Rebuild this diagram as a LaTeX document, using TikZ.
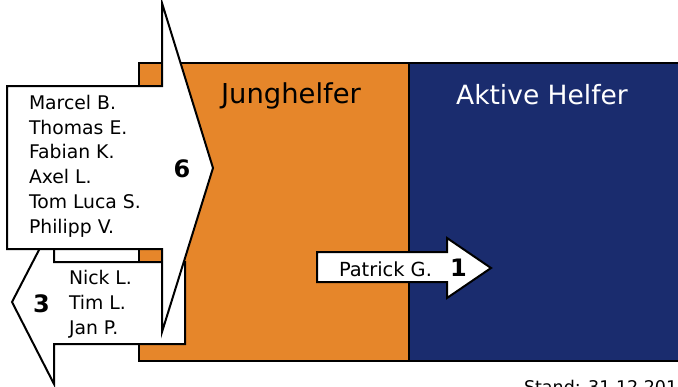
\documentclass[tikz,border=0pt]{standalone}
\usepackage{fontspec}
\setmainfont{DejaVu Sans}
\usetikzlibrary{positioning}
\definecolor{jungorange}{HTML}{E6862A}
\definecolor{aktivblue}{HTML}{1A2C6E}

\begin{document}
\begin{tikzpicture}[x=1pt, y=-1pt, line width=2pt, line join=miter,
  grouplabel/.style={anchor=base, inner sep=0pt, font=\fontsize{26.5}{26.5}\selectfont},
  namelist/.style={anchor=base west, align=left, inner sep=0pt, font=\fontsize{18.8}{24.8}\selectfont},
  countlabel/.style={inner sep=0pt, font=\bfseries\fontsize{24}{24}\selectfont},
  movearrow/.style={draw=black, fill=white}]
\useasboundingbox (0,0) rectangle (678,386);
\draw[fill=jungorange] (139,63) rectangle (409,361);
\draw[fill=aktivblue] (409,63) rectangle (700,361);
\node[grouplabel, font=\fontsize{27.4}{27.4}\selectfont] (jung) at (291,103) {Junghelfer};
\node[grouplabel, text=white] (aktiv) at (542,104) {Aktive Helfer};
\node[anchor=north west, inner sep=0pt, font=\fontsize{17.5}{17.5}\selectfont] (stand) at (523,379) {Stand: 31.12.2016};
% zu den Junghelfern zurueck
\draw[movearrow] (185,262) -- (185,344) -- (54,344) -- (54,384) -- (12,302) -- (54,221) -- (54,262) -- cycle;
\node[namelist] (back) at (68,334) {Nick L.\\Tim L.\\Jan P.};
\node[countlabel] (backnum) at (41.5,304) {3};
% neu bei den Junghelfern
\draw[movearrow] (7,86) -- (162,86) -- (162,3) -- (213,168) -- (162,332) -- (162,249) -- (7,249) -- cycle;
\node[namelist] (neu) at (28,233.3) {Marcel B.\\Thomas E.\\Fabian K.\\Axel L.\\Tom Luca S.\\Philipp V.};
\node[countlabel] (neunum) at (182,168.5) {6};
% zu den aktiven Helfern
\draw[movearrow] (317,252) -- (447,252) -- (447,238) -- (491,268) -- (447,298) -- (447,282) -- (317,282) -- cycle;
\node[namelist, font=\fontsize{19.4}{19.4}\selectfont] (wechsel) at (338,276) {Patrick G.};
\node[countlabel] (wechselnum) at (458.5,267.5) {1};
\end{tikzpicture}
\end{document}
